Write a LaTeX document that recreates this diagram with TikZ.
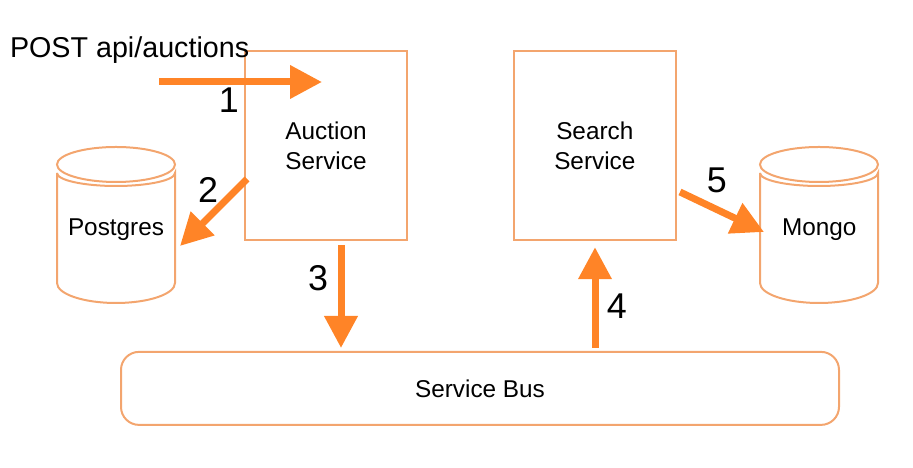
\documentclass[tikz,border=0pt]{standalone}
\usepackage{fontspec}
\setmainfont{Liberation Sans}
\usetikzlibrary{arrows.meta}
\definecolor{boxline}{HTML}{F3A56E}
\definecolor{flowline}{HTML}{FF8427}
\tikzset{
  outline/.style={draw=boxline,line width=.05cm},
  servicebox/.style={outline,minimum width=4.05cm,minimum height=4.725cm,align=center,inner sep=0pt,font=\fontsize{17.3}{21.3}\selectfont},
  labeltext/.style={inner sep=0pt,font=\fontsize{17.3}{21.3}\selectfont},
  flownum/.style={inner sep=0pt,font=\fontsize{25.5}{30}\selectfont},
  flow/.style={draw=flowline,line width=.175cm,-{Triangle[length=.8cm,width=.8cm]}}
}
\begin{document}
\begin{tikzpicture}
\useasboundingbox (0,0) rectangle (22.825,11.7);
% services and bus
\node[servicebox] (auction) at (8.15,8.06) {Auction\\Service};
\node[servicebox] (search) at (14.87,8.06) {Search\\Service};
\node[outline,labeltext,rounded corners=.45cm,minimum width=17.95cm,minimum height=1.825cm] (bus) at (12,1.99) {Service Bus};
% postgres
\draw[outline] (1.425,7.375) --(1.425,4.625) arc[start angle=180,end angle=360,x radius=1.475,y radius=.5] --(4.375,7.375) arc[start angle=0,end angle=-180,x radius=1.475,y radius=.325];
\draw[outline,fill=white] (2.9,7.5875) ellipse[x radius=1.475,y radius=.4375];
\node[labeltext] (postgres) at (2.9,5.97) {Postgres};
% mongo
\draw[outline] (19,7.375) --(19,4.625) arc[start angle=180,end angle=360,x radius=1.475,y radius=.5] --(21.95,7.375) arc[start angle=0,end angle=-180,x radius=1.475,y radius=.325];
\draw[outline,fill=white] (20.475,7.5875) ellipse[x radius=1.475,y radius=.4375];
\node[labeltext] (mongo) at (20.48,5.95) {Mongo};
% free ends of the arrows
\coordinate (post) at (3.975,9.65);
\coordinate (inauction) at (8.05,9.65);
\coordinate (out2) at (6.175,7.225);
\coordinate (in2) at (4.5,5.55);
\coordinate (out3) at (8.525,5.575);
\coordinate (in3) at (8.525,3.0);
\coordinate (out4) at (14.875,3);
\coordinate (in4) at (14.875,5.52);
\coordinate (out5) at (17,6.9);
\coordinate (in5) at (19.1,5.9);
% arrows
\draw[flow] (post) --(inauction);
\draw[flow] (out2) --(in2);
\draw[flow] (out3) --(in3);
\draw[flow] (out4) --(in4);
\draw[flow] (out5) --(in5);
% texts
\node[inner sep=0pt,font=\fontsize{20.4}{24}\selectfont] (request) at (3.24,10.45) {POST api/auctions};
\node[flownum] (n1) at (5.72,9.2) {1};
\node[flownum] (n2) at (5.2,6.95) {2};
\node[flownum] (n3) at (7.95,4.75) {3};
\node[flownum] (n4) at (15.42,4.05) {4};
\node[flownum] (n5) at (17.92,7.2) {5};
\end{tikzpicture}
\end{document}
